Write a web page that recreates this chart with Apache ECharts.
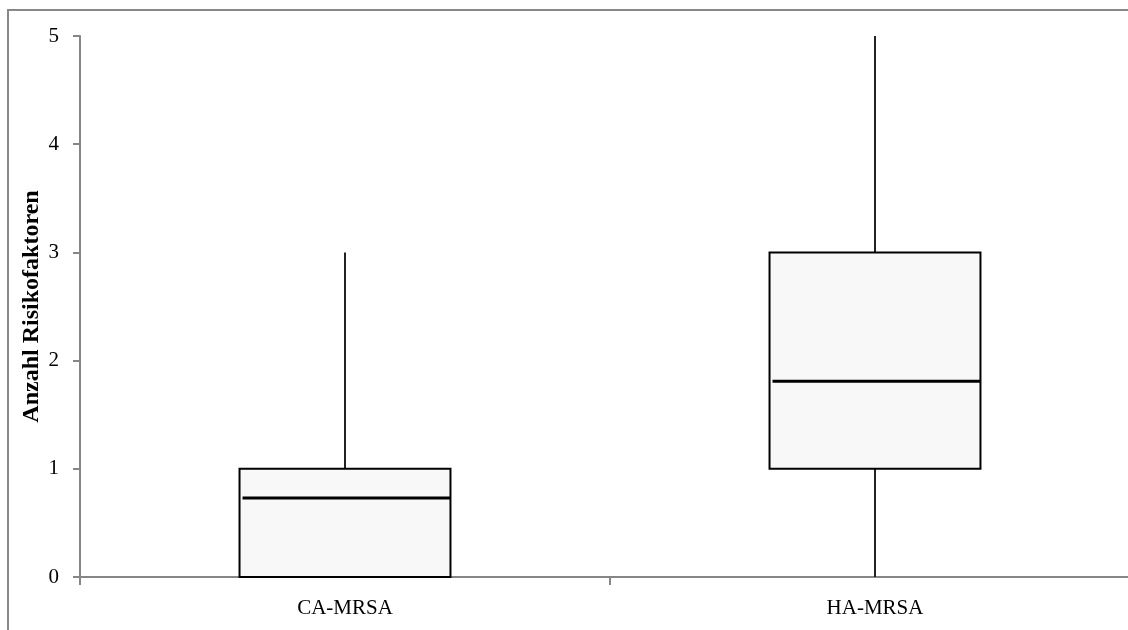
<!DOCTYPE html>
<html>
<head>
<meta charset="utf-8">
<script src="https://cdn.jsdelivr.net/npm/echarts@6/dist/echarts.min.js"></script>
<style>
html,body{margin:0;padding:0;overflow:hidden;background:#fff;width:1128px;height:630px;}
#c{width:1140px;height:630px;}
</style>
</head>
<body>
<div id="c"></div>
<script>
var categories = ['CA-MRSA', 'HA-MRSA'];
var minVals = [0, 0];
var q1Vals = [0, 1];
var medianVals = [0.73, 1.81];
var q3Vals = [1, 3];
var maxVals = [3, 5];
var yTicks = [0, 1, 2, 3, 4, 5];
var yTitle = 'Anzahl Risikofaktoren';

var data = categories.map(function (c, i) {
  return [i, minVals[i], q1Vals[i], medianVals[i], q3Vals[i], maxVals[i]];
});

var chart = echarts.init(document.getElementById('c'), null, {renderer: 'canvas'});
var font = 'Liberation Serif';
chart.setOption({
  animation: false,
  backgroundColor: '#fff',
  graphic: [{
    type: 'rect', z: 100, silent: true,
    shape: {x: 8, y: 10, width: 2000, height: 2000},
    style: {fill: 'none', stroke: '#888888', lineWidth: 2}
  }],
  grid: {left: 80, top: 36, bottom: 53, right: 0},
  xAxis: {
    type: 'category',
    data: categories,
    boundaryGap: true,
    axisLine: {lineStyle: {color: '#868686', width: 2}},
    axisTick: {show: true, length: 8, lineStyle: {color: '#868686', width: 2}},
    axisLabel: {fontFamily: font, fontSize: 21, color: '#000', margin: 21}
  },
  yAxis: {
    type: 'value',
    min: yTicks[0], max: yTicks[yTicks.length - 1], interval: 1,
    name: yTitle,
    nameLocation: 'middle',
    nameRotate: 90,
    nameGap: 36,
    nameMoveOverlap: false,
    nameTextStyle: {fontFamily: font, fontSize: 24, fontWeight: 'bold', color: '#000'},
    axisLine: {show: true, lineStyle: {color: '#868686', width: 2}},
    axisTick: {show: true, length: 7, lineStyle: {color: '#868686', width: 2}},
    splitLine: {show: false},
    axisLabel: {fontFamily: font, fontSize: 21, color: '#000', margin: 21}
  },
  series: [{
    type: 'custom',
    data: data,
    encode: {x: 0, y: [1, 2, 3, 4, 5]},
    z: 10,
    renderItem: function (params, api) {
      var ci = api.value(0);
      var pMin = api.coord([ci, api.value(1)]);
      var pQ1 = api.coord([ci, api.value(2)]);
      var pMed = api.coord([ci, api.value(3)]);
      var pQ3 = api.coord([ci, api.value(4)]);
      var pMax = api.coord([ci, api.value(5)]);
      var bw = api.size([1, 0])[0] * 0.398;
      var cx = pQ1[0];
      var x0 = cx - bw / 2, x1 = cx + bw / 2;
      var children = [];
      children.push({
        type: 'line',
        shape: {x1: cx, y1: pQ3[1], x2: cx, y2: pMax[1]},
        style: {stroke: '#222', lineWidth: 2}
      });
      children.push({
        type: 'line',
        shape: {x1: cx, y1: pMin[1], x2: cx, y2: pQ1[1]},
        style: {stroke: '#222', lineWidth: 2}
      });
      children.push({
        type: 'rect',
        shape: {x: x0, y: pQ3[1], width: bw, height: pQ1[1] - pQ3[1]},
        style: {fill: '#f8f8f8', stroke: '#000', lineWidth: 2}
      });
      children.push({
        type: 'line',
        shape: {x1: x0 + 3, y1: pMed[1], x2: x1, y2: pMed[1]},
        style: {stroke: '#000', lineWidth: 3}
      });
      return {type: 'group', children: children};
    }
  }]
});
</script>
</body>
</html>
